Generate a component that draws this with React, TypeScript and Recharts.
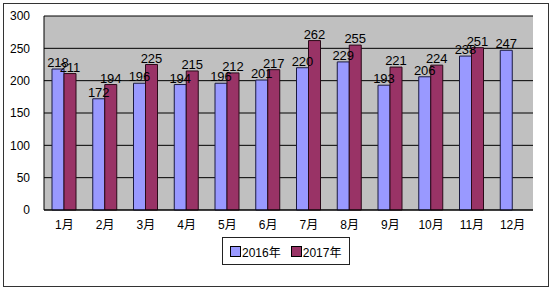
import React from "react";
import { BarChart, Bar, XAxis, YAxis, CartesianGrid, LabelList } from "recharts";

const months = ["1月", "2月", "3月", "4月", "5月", "6月", "7月", "8月", "9月", "10月", "11月", "12月"];
const values2016 = [218, 172, 196, 194, 196, 201, 220, 229, 193, 206, 238, 247];
const values2017: (number | null)[] = [211, 194, 225, 215, 212, 217, 262, 255, 221, 224, 251, null];
const yTicks = [0, 50, 100, 150, 200, 250, 300];
const seriesNames = ["2016年", "2017年"];

const data = months.map((m, i) => ({ month: m, y2016: values2016[i], y2017: values2017[i] }));

const FONT = "'Liberation Sans', 'Noto Sans CJK SC', sans-serif";
const BLUE = "#9999ff";
const RED = "#993366";

const LegendBox = () => (
  <div
    style={{
      position: "absolute",
      left: 222,
      top: 237,
      border: "1px solid #222",
      background: "#fff",
      width: 128,
      height: 28,
      boxSizing: "border-box",
      display: "flex",
      alignItems: "center",
      fontFamily: FONT,
      fontSize: 12,
      color: "#000",
      paddingLeft: 7,
    }}
  >
    <span style={{ display: "inline-block", width: 9, height: 9, background: BLUE, border: "1px solid #000", marginRight: 1 }} />
    <span style={{ marginRight: 10 }}>{seriesNames[0]}</span>
    <span style={{ display: "inline-block", width: 9, height: 9, background: RED, border: "1px solid #000", marginRight: 1 }} />
    <span>{seriesNames[1]}</span>
  </div>
);

export default function App() {
  return (
    <div style={{ position: "fixed", left: 0, top: 0, width: 551, height: 290, background: "#fff" }}>
      <div
        style={{
          position: "absolute",
          left: 3,
          top: 3,
          width: 546,
          height: 284,
          border: "1px solid #333",
          boxSizing: "border-box",
        }}
      />
      <div style={{ position: "absolute", left: 0, top: 0 }}>
        <BarChart
          width={551}
          height={290}
          data={data}
          margin={{ top: 16, right: 18, bottom: 60, left: 4 }}
          barGap={0}
          barSize={12}
        >
          <CartesianGrid vertical={false} stroke="#000" fill="#c0c0c0" fillOpacity={1} />
          <XAxis
            dataKey="month"
            tickLine={false}
            axisLine={{ stroke: "#000" }}
            tick={{ fill: "#000", fontSize: 12, fontFamily: FONT }}
            tickMargin={4}
            height={20}
          />
          <YAxis
            domain={[0, 300]}
            ticks={yTicks}
            width={40}
            tickLine={false}
            axisLine={{ stroke: "#000" }}
            tick={{ fill: "#000", fontSize: 12, fontFamily: FONT }}
            tickMargin={8}
            interval={0}
          />
          <Bar dataKey="y2016" fill={BLUE} stroke="#1a1a40" strokeWidth={1} isAnimationActive={false}>
            <LabelList dataKey="y2016" position="top" offset={2} fill="#000" fontSize={13} fontFamily={FONT} />
          </Bar>
          <Bar dataKey="y2017" fill={RED} stroke="#2a0a18" strokeWidth={1} isAnimationActive={false}>
            <LabelList dataKey="y2017" position="top" offset={2} fill="#000" fontSize={13} fontFamily={FONT} />
          </Bar>
        </BarChart>
      </div>
      <LegendBox />
    </div>
  );
}
